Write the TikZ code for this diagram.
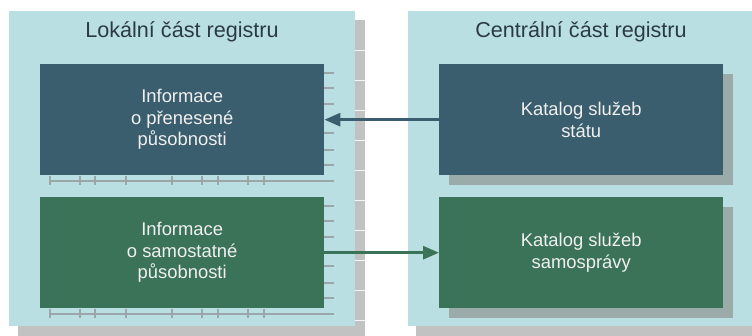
\documentclass[tikz,border=0pt]{standalone}
\usepackage{fontspec}
\setmainfont{Liberation Sans}
\usetikzlibrary{arrows.meta}
\definecolor{panelbg}{HTML}{B9DFE2}
\definecolor{panelsh}{HTML}{C2C2C2}
\definecolor{tealbox}{HTML}{3B5E6E}
\definecolor{greenbox}{HTML}{3B7359}
\definecolor{boxsh}{HTML}{9AABAA}
\definecolor{titletext}{HTML}{2B3B42}
\definecolor{ruler}{HTML}{9AA6A8}
\tikzset{
  panel/.style={fill=panelbg, draw=none, anchor=north west, inner sep=0pt},
  paneltitle/.style={text=titletext, font=\fontsize{21.6}{24}\selectfont, anchor=base},
  infobox/.style={draw=none, anchor=north west, inner sep=0pt,
    minimum width=284pt, minimum height=111pt, text=white!94!black,
    align=center, font=\fontsize{18.4}{21.5}\selectfont},
  tealfill/.style={fill=tealbox},
  greenfill/.style={fill=greenbox},
  flow/.style={line width=3pt, -{Triangle[length=16pt,width=13pt]}},
  rulerline/.style={draw=ruler, line width=1.2pt},
}
\begin{document}
\begin{tikzpicture}[x=1pt,y=-1pt]
\useasboundingbox (0,0) rectangle (752,336);
\fill[white] (0,0) rectangle (752,336);

% panel shadows
\fill[panelsh] (355,20) rectangle (365,336);
\fill[panelsh] (18,326) rectangle (365,336);
\fill[panelsh] (416,326) rectangle (752,336);
\foreach \yy in {50,80,110,140,170,200,230,260,290,320}
  \draw[white!85!panelsh, line width=0.5pt] (355,\yy) -- (365,\yy);

% panels
\node[panel, minimum width=346pt, minimum height=315pt] (lpanel) at (9,11) {};
\node[panel, minimum width=344pt, minimum height=315pt] (rpanel) at (408,11) {};
\node[paneltitle] (ltitle) at (182,38) {Lokální část registru};
\node[paneltitle] (rtitle) at (581,38) {Centrální část registru};

% shadows of the right-hand boxes
\fill[boxsh] (449,74) rectangle (733,185);
\fill[boxsh] (449,207) rectangle (733,318);

% ruler-like edges of the left-hand boxes
\foreach \top in {64,197} {
  \foreach \dy in {9,24,40,69,86,101}
    \draw[rulerline] (324,\top+\dy) -- (334,\top+\dy);
  \draw[rulerline] (50,\top+117) -- (334,\top+117);
  \foreach \xx in {50,80,95,126,172,202,218,248,264}
    \draw[rulerline] (\xx,\top+112) -- (\xx,\top+121);
}

% boxes
\node[infobox, tealfill] (ltop) at (40,64) {Informace\\o přenesené\\působnosti};
\node[infobox, greenfill] (lbot) at (40,197) {Informace\\o samostatné\\působnosti};
\node[infobox, tealfill] (rtop) at (439,64) {Katalog služeb\\státu};
\node[infobox, greenfill] (rbot) at (439,197) {Katalog služeb\\samosprávy};

% connectors
\draw[flow, draw=tealbox, fill=tealbox] (rtop.west) -- (ltop.east);
\draw[flow, draw=greenbox, fill=greenbox] (lbot.east) -- (rbot.west);
\end{tikzpicture}
\end{document}
